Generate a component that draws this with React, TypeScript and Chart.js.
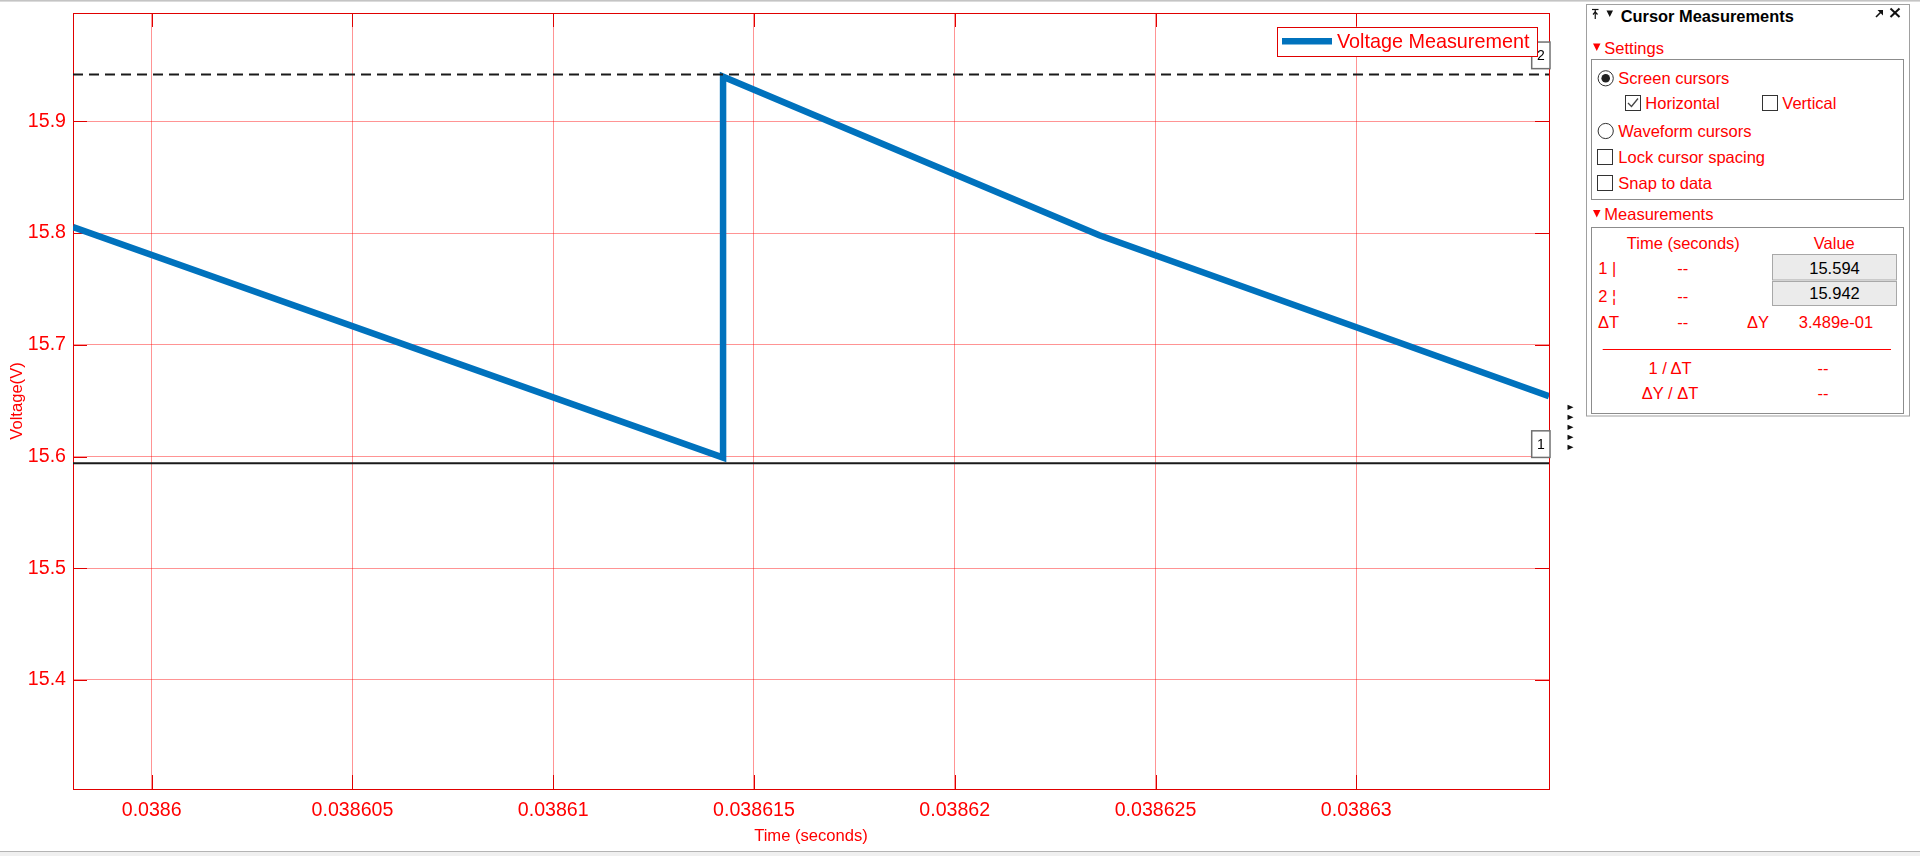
import React, { useEffect, useRef } from "react";
import { Chart, registerables } from "chart.js";

Chart.register(...registerables);

// ---------- data ----------
const timeValues = [0.03859804, 0.03861423, 0.03861423, 0.0386236, 0.0386348];
const voltageValues = [15.8055, 15.599, 15.94, 15.798, 15.654];
const seriesLabel = "Voltage Measurement";

const xRange = [0.03859804, 0.0386348];
const yRange = [15.3024, 15.997];
const xTickValues = [0.0386, 0.038605, 0.03861, 0.038615, 0.03862, 0.038625, 0.03863];
const xTickLabels = ["0.0386", "0.038605", "0.03861", "0.038615", "0.03862", "0.038625", "0.03863"];
const yTickValues = [15.4, 15.5, 15.6, 15.7, 15.8, 15.9];
const yTickLabels = ["15.4", "15.5", "15.6", "15.7", "15.8", "15.9"];
const xTitle = "Time (seconds)";
const yTitle = "Voltage(V)";

const cursorValues = [15.594, 15.942];
const cursorNames = ["1", "2"];
const cursorValueTexts = ["15.594", "15.942"];
const deltaYText = "3.489e-01";

// ---------- style ----------
const FONT = "'Liberation Sans', Arial, sans-serif";
const RED = "#ff0000";
const AXIS_RED = "#e00000";
const GRID = "rgba(255,0,0,0.42)";
const BLUE = "#0072bd";

function labelFor(values: number[], labels: string[], v: number) {
  let best = 0;
  for (let i = 1; i < values.length; i++) {
    if (Math.abs(values[i] - v) < Math.abs(values[best] - v)) best = i;
  }
  return labels[best];
}

const axesPlugin = {
  id: "matlabAxes",
  beforeDatasetsDraw(chart: any) {
    const { ctx, chartArea: a, scales } = chart;
    ctx.save();
    ctx.strokeStyle = AXIS_RED;
    ctx.lineWidth = 1;
    ctx.beginPath();
    const tl = 14;
    scales.x.ticks.forEach((t: any) => {
      const px = Math.round(scales.x.getPixelForValue(t.value)) + 0.5;
      ctx.moveTo(px, a.bottom);
      ctx.lineTo(px, a.bottom - tl);
      ctx.moveTo(px, a.top);
      ctx.lineTo(px, a.top + tl);
    });
    scales.y.ticks.forEach((t: any) => {
      const py = Math.round(scales.y.getPixelForValue(t.value)) + 0.5;
      ctx.moveTo(a.left, py);
      ctx.lineTo(a.left + tl, py);
      ctx.moveTo(a.right, py);
      ctx.lineTo(a.right - tl, py);
    });
    ctx.stroke();
    ctx.strokeRect(a.left + 0.5, a.top + 0.5, a.right - a.left, a.bottom - a.top);
    ctx.restore();
  },
};

const overlayPlugin = {
  id: "overlay",
  afterDatasetsDraw(chart: any) {
    const { ctx, chartArea: a, scales } = chart;
    ctx.save();
    cursorValues.forEach((v, i) => {
      const py = scales.y.getPixelForValue(v);
      ctx.beginPath();
      ctx.strokeStyle = "#1a1a1a";
      ctx.lineWidth = 2;
      ctx.setLineDash(i === 1 ? [10, 6] : []);
      ctx.moveTo(a.left, py);
      ctx.lineTo(a.right, py);
      ctx.stroke();
    });
    ctx.setLineDash([]);
    // cursor boxes
    cursorValues.forEach((v, i) => {
      const py = scales.y.getPixelForValue(v);
      const bx = a.right - 17.3;
      const by = py - 32.4;
      ctx.fillStyle = "#ffffff";
      ctx.fillRect(bx, by, 18.3, 26.6);
      ctx.strokeStyle = "#707070";
      ctx.lineWidth = 1.5;
      ctx.strokeRect(bx, by, 18.3, 26.6);
      ctx.fillStyle = "#000000";
      ctx.font = `14px ${FONT}`;
      ctx.textAlign = "center";
      ctx.textBaseline = "middle";
      ctx.fillText(cursorNames[i], bx + 9.2, by + 14);
    });
    ctx.restore();
  },
  afterDraw(chart: any) {
    const { ctx, chartArea: a } = chart;
    const ds = chart.data.datasets[0];
    ctx.save();
    const lx = a.right - 272;
    const ly = a.top + 13.7;
    ctx.fillStyle = "#ffffff";
    ctx.fillRect(lx, ly, 260, 29.3);
    ctx.strokeStyle = AXIS_RED;
    ctx.lineWidth = 1;
    ctx.strokeRect(Math.round(lx) + 0.5, Math.round(ly) + 0.5, 260, 29);
    ctx.beginPath();
    ctx.strokeStyle = ds.borderColor;
    ctx.lineWidth = 6.5;
    ctx.moveTo(lx + 5, ly + 14.6);
    ctx.lineTo(lx + 55, ly + 14.6);
    ctx.stroke();
    ctx.fillStyle = RED;
    ctx.font = `19.8px ${FONT}`;
    ctx.textAlign = "left";
    ctx.textBaseline = "middle";
    ctx.fillText(ds.label, lx + 60, ly + 15.5);
    ctx.restore();
  },
};

function T(props: { x: number; y: number; text: string; anchor?: string; color?: string; size?: number; bold?: boolean }) {
  return (
    <text
      x={props.x}
      y={props.y}
      textAnchor={props.anchor || "start"}
      dominantBaseline="central"
      fill={props.color || RED}
      fontSize={props.size || 16.5}
      fontWeight={props.bold ? "bold" : "normal"}
      fontFamily={FONT}
    >
      {props.text}
    </text>
  );
}

function CheckBox({ x, y, checked }: { x: number; y: number; checked?: boolean }) {
  return (
    <g>
      <rect x={x + 0.5} y={y + 0.5} width={15} height={15} fill="#fff" stroke="#333" strokeWidth={1} />
      {checked && <polyline points={`${x + 3},${y + 8} ${x + 6.5},${y + 11.5} ${x + 13},${y + 3.5}`} fill="none" stroke="#444" strokeWidth={1.3} />}
    </g>
  );
}

function Radio({ cx, cy, on }: { cx: number; cy: number; on?: boolean }) {
  return (
    <g>
      <circle cx={cx} cy={cy} r={7.6} fill="#fff" stroke="#333" strokeWidth={1} />
      {on && <circle cx={cx} cy={cy} r={4.3} fill="#222" />}
    </g>
  );
}

function Overlay() {
  const dash = "--";
  return (
    <svg width={1920} height={856} style={{ position: "absolute", left: 0, top: 0, pointerEvents: "none" }}>
      {/* page frame */}
      <rect x={0} y={0} width={1920} height={1.6} fill="#c4c4c4" />
      <rect x={0} y={851} width={1920} height={1} fill="#b4b4b4" />
      <rect x={0} y={852} width={1920} height={4} fill="#f0f0f0" />
      {/* small triangles */}
      {[0, 1, 2, 3, 4].map((k) => {
        const c = 407.3 + k * 10;
        return <polygon key={k} points={`1567.5,${c - 2.6} 1573.5,${c} 1567.5,${c + 2.6}`} fill="#111" />;
      })}
      {/* panel */}
      <rect x={1586.5} y={4.5} width={323} height={411.5} fill="#fff" stroke="#a0a0a0" strokeWidth={1} />
      {/* header icons */}
      <line x1={1592} y1={9.5} x2={1598.5} y2={9.5} stroke="#111" strokeWidth={1.2} />
      <line x1={1595.25} y1={10} x2={1595.25} y2={19} stroke="#111" strokeWidth={1.2} />
      <polyline points="1593,14.5 1595.25,12 1597.5,14.5" fill="none" stroke="#111" strokeWidth={1.2} />
      <polygon points="1606.5,10.5 1613,10.5 1609.75,17" fill="#111" />
      <T x={1620.7} y={16} text="Cursor Measurements" color="#000" size={16.4} bold />
      <polygon points="1877.5,10 1883,10 1883,15.5" fill="#111" />
      <line x1={1876} y1={17} x2={1881} y2={12} stroke="#111" strokeWidth={1.6} />
      <line x1={1890.5} y1={8.5} x2={1899.5} y2={17} stroke="#111" strokeWidth={2} />
      <line x1={1899.5} y1={8.5} x2={1890.5} y2={17} stroke="#111" strokeWidth={2} />
      {/* settings */}
      <polygon points="1593,43.5 1600.5,43.5 1596.75,51" fill={RED} />
      <T x={1604.3} y={47.7} text="Settings" />
      <rect x={1591.5} y={59.5} width={312} height={140} fill="none" stroke="#8c8c8c" strokeWidth={1} />
      <Radio cx={1605.7} cy={78.3} on />
      <T x={1618.3} y={78.3} text="Screen cursors" />
      <CheckBox x={1625} y={95} checked />
      <T x={1645.3} y={103} text="Horizontal" />
      <CheckBox x={1762} y={95} />
      <T x={1782.3} y={103} text="Vertical" />
      <Radio cx={1605.7} cy={131} />
      <T x={1618.3} y={131} text="Waveform cursors" />
      <CheckBox x={1597} y={149} />
      <T x={1618.3} y={157} text="Lock cursor spacing" />
      <CheckBox x={1597} y={175} />
      <T x={1618.3} y={182.7} text="Snap to data" />
      {/* measurements */}
      <polygon points="1593,210 1600.5,210 1596.75,217.5" fill={RED} />
      <T x={1604.3} y={214.3} text="Measurements" />
      <rect x={1591.5} y={227.5} width={312} height={186} fill="none" stroke="#8c8c8c" strokeWidth={1} />
      <T x={1683.3} y={243.3} text="Time (seconds)" anchor="middle" />
      <T x={1834.3} y={243.3} text="Value" anchor="middle" />
      <rect x={1772.5} y={254.5} width={124} height={25.5} fill="#ebebeb" stroke="#a8a8a8" strokeWidth={1} />
      <rect x={1772.5} y={281.5} width={124} height={24} fill="#ebebeb" stroke="#a8a8a8" strokeWidth={1} />
      <T x={1598.3} y={268} text={`${cursorNames[0]} |`} />
      <T x={1682.7} y={268} text={dash} anchor="middle" />
      <T x={1834.5} y={267.7} text={cursorValueTexts[0]} anchor="middle" color="#000" />
      <T x={1598.3} y={295.7} text={`${cursorNames[1]} ¦`} />
      <T x={1682.7} y={295.7} text={dash} anchor="middle" />
      <T x={1834.5} y={293.3} text={cursorValueTexts[1]} anchor="middle" color="#000" />
      <T x={1598} y={321.7} text="ΔT" />
      <T x={1682.7} y={321.7} text={dash} anchor="middle" />
      <T x={1758} y={321.7} text="ΔY" anchor="middle" />
      <T x={1836} y={321.7} text={deltaYText} anchor="middle" />
      <line x1={1602.7} y1={349.5} x2={1891} y2={349.5} stroke={RED} strokeWidth={1} />
      <T x={1670} y={367.7} text="1 / ΔT" anchor="middle" />
      <T x={1823} y={367.7} text={dash} anchor="middle" />
      <T x={1670} y={393.3} text="ΔY / ΔT" anchor="middle" />
      <T x={1823} y={393.3} text={dash} anchor="middle" />
    </svg>
  );
}

export default function App() {
  const ref = useRef<HTMLCanvasElement>(null);
  useEffect(() => {
    const canvas = ref.current!;
    const chart = new Chart(canvas, {
      type: "line",
      data: {
        datasets: [
          {
            label: seriesLabel,
            data: timeValues.map((t, i) => ({ x: t, y: voltageValues[i] })),
            borderColor: BLUE,
            backgroundColor: BLUE,
            borderWidth: 6.5,
            pointRadius: 0,
            fill: false,
            tension: 0,
            borderJoinStyle: "miter",
            borderCapStyle: "butt",
          },
        ],
      },
      options: {
        animation: false,
        responsive: false,
        devicePixelRatio: 1,
        events: [],
        layout: { padding: { left: 0, top: 13, right: 371, bottom: 0 } },
        plugins: { legend: { display: false }, tooltip: { enabled: false } },
        scales: {
          x: {
            type: "linear",
            min: xRange[0],
            max: xRange[1],
            afterBuildTicks: (s: any) => {
              s.ticks = xTickValues.map((v) => ({ value: v }));
            },
            afterFit: (s: any) => {
              s.height = 67;
              s.paddingLeft = 0;
              s.paddingRight = 0;
              s.paddingTop = 0;
              s.paddingBottom = 0;
            },
            grid: { color: GRID, lineWidth: 1, drawTicks: false },
            border: { display: false },
            ticks: {
              color: RED,
              font: { family: FONT, size: 19.6 },
              padding: 10,
              maxRotation: 0,
              autoSkip: false,
              callback: (v: any) => labelFor(xTickValues, xTickLabels, Number(v)),
            },
            title: {
              display: true,
              text: xTitle,
              color: RED,
              font: { family: FONT, size: 16.6 },
              padding: { top: 0, bottom: 10 },
            },
          },
          y: {
            type: "linear",
            min: yRange[0],
            max: yRange[1],
            afterBuildTicks: (s: any) => {
              s.ticks = yTickValues.map((v) => ({ value: v }));
            },
            afterFit: (s: any) => {
              s.width = 73;
              s.paddingLeft = 0;
              s.paddingRight = 0;
              s.paddingTop = 0;
              s.paddingBottom = 0;
            },
            grid: { color: GRID, lineWidth: 1, drawTicks: false },
            border: { display: false },
            ticks: {
              color: RED,
              font: { family: FONT, size: 19.6 },
              padding: 7,
              autoSkip: false,
              callback: (v: any) => labelFor(yTickValues, yTickLabels, Number(v)),
            },
            title: {
              display: true,
              text: yTitle,
              color: RED,
              font: { family: FONT, size: 16.6 },
              padding: { top: 7, bottom: 0 },
            },
          },
        },
      } as any,
      plugins: [axesPlugin, overlayPlugin],
    });
    return () => chart.destroy();
  }, []);

  return (
    <div style={{ position: "fixed", left: 0, top: 0, width: 1920, height: 856, background: "#fff", overflow: "hidden" }}>
      <canvas ref={ref} width={1920} height={856} style={{ position: "absolute", left: 0, top: 0, width: 1920, height: 856, display: "block" }} />
      <Overlay />
    </div>
  );
}
